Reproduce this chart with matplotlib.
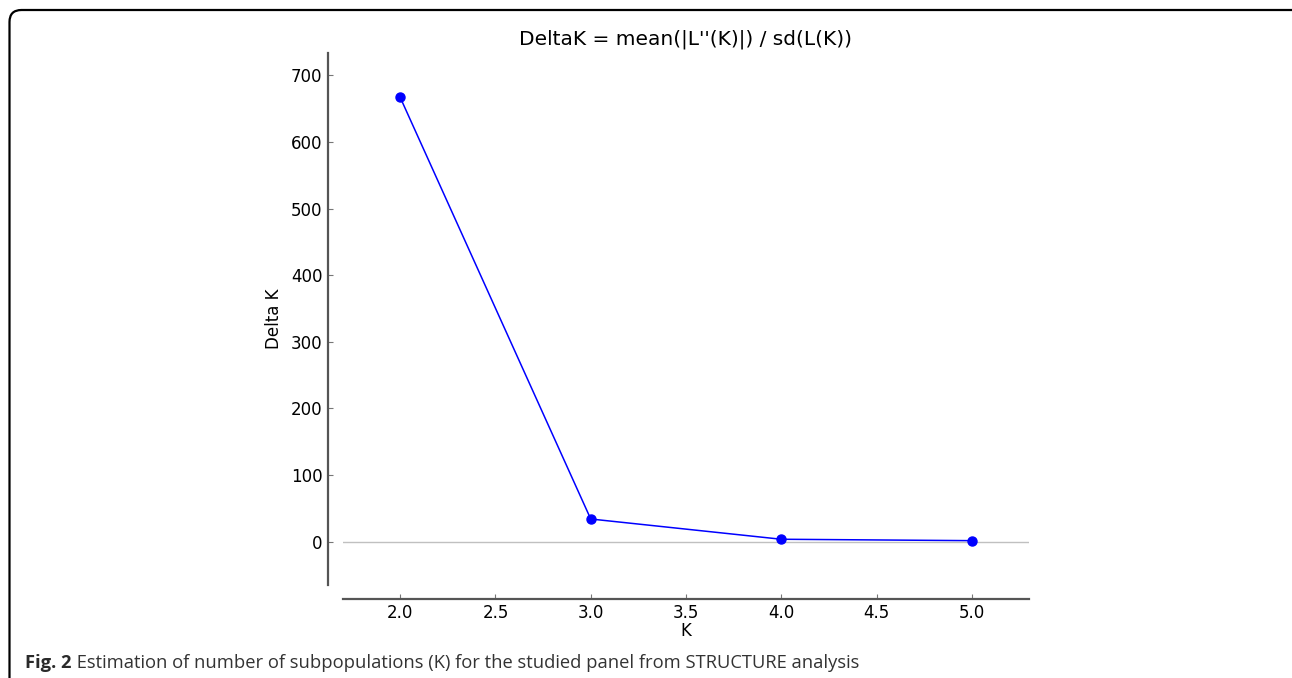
#libraries
import matplotlib
matplotlib.use("Agg")
import matplotlib.pyplot as plt
from matplotlib.patches import FancyBboxPatch
from matplotlib.transforms import IdentityTransform

#data
k_values = [2, 3, 4, 5]
delta_k = [667, 34, 3.6, 1.5]

title = "DeltaK = mean(|L''(K)|) / sd(L(K))"
caption_bold = "Fig. 2"
caption_text = " Estimation of number of subpopulations (K) for the studied panel from STRUCTURE analysis"

fig = plt.figure(figsize=(12.92, 6.78), dpi=100)
ax = fig.add_axes([0.2655, 0.1372, 0.5309, 0.7846])

#zero line and the curve
ax.axhline(0, color="#c0c0c0", lw=1, zorder=1)
ax.plot(k_values, delta_k, color="blue", lw=1.1, marker="o", markersize=6.5, zorder=3)

#10% margins like the original
xr = max(k_values) - min(k_values)
yr = max(delta_k) - min(delta_k)
ax.set_xlim(min(k_values) - 0.1 * xr, max(k_values) + 0.1 * xr)
ax.set_ylim(min(delta_k) - 0.1 * yr, max(delta_k) + 0.1 * yr)
ax.set_xticks([2.0, 2.5, 3.0, 3.5, 4.0, 4.5, 5.0])
ax.set_yticks(range(0, 701, 100))

#detached spines
for s in ["top", "right"]:
    ax.spines[s].set_visible(False)
ax.spines["left"].set_position(("outward", 10.8))
ax.spines["bottom"].set_position(("outward", 10))
for s in ["left", "bottom"]:
    ax.spines[s].set_color("#555555")
    ax.spines[s].set_linewidth(1.6)
ax.tick_params(direction="in", length=3.5, width=0.8, color="#777777", labelsize=12, pad=4)

ax.set_title(title, fontsize=14.5, pad=6)
ax.set_xlabel("K", fontsize=12, labelpad=0)
ax.set_ylabel("Delta K", fontsize=12, labelpad=6)

#caption
t = fig.text(25 / 1292, 1 - 668 / 678, caption_bold, fontsize=13.2, fontweight="bold",
             family="Open Sans", color="#2a2a2a", va="baseline")
ax.annotate(caption_text, xy=(1, 0), xycoords=t, fontsize=13.2, family="Open Sans",
            color="#333333", va="bottom", annotation_clip=False)

#rounded frame round the figure (right and bottom edges fall off the page)
frame = FancyBboxPatch((9.5, -60), 1300, 668 + 60,
                       boxstyle="round,pad=0,rounding_size=12",
                       transform=IdentityTransform(), fill=False,
                       edgecolor="black", lw=1.6)
fig.patches.append(frame)

plt.savefig("out.png", dpi=100)
